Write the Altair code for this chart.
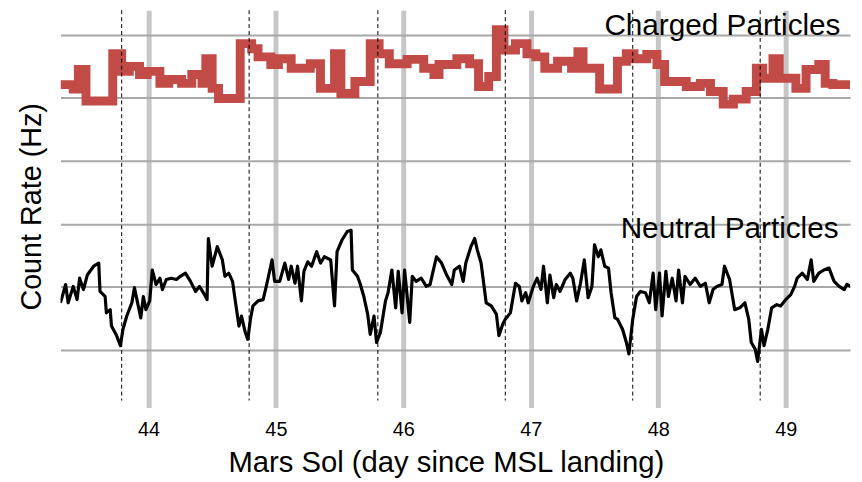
import altair as alt
import pandas as pd

# ---- data ----
sol_ticks = [44, 45, 46, 47, 48, 49]
grid_levels = [0, 10, 20, 30, 40, 50]
sunrise_sols = [43.79, 44.79, 45.80, 46.80, 47.80, 48.80]

charged_sol = [
    43.31, 43.41, 43.45, 43.51, 43.72, 43.79, 43.85, 43.93, 43.99, 44.09,
    44.16, 44.26, 44.34, 44.42, 44.45, 44.50, 44.55, 44.72, 44.81, 44.86,
    44.96, 45.02, 45.12, 45.27, 45.35, 45.46, 45.51, 45.62, 45.74, 45.81,
    45.89, 46.03, 46.16, 46.24, 46.28, 46.42, 46.52, 46.59, 46.67, 46.73,
    46.79, 46.88, 46.97, 47.04, 47.11, 47.21, 47.32, 47.37, 47.41, 47.54,
    47.68, 47.75, 47.81, 47.91, 47.99, 48.05, 48.22, 48.33, 48.41, 48.51,
    48.59, 48.69, 48.77, 48.82, 48.90, 48.95, 49.08, 49.16, 49.26, 49.31,
    49.37, 49.51,
]
charged_rate = [
    42.1, 41.4, 44.5, 39.5, 47.0, 44.2, 45.0, 43.7, 44.2, 42.3,
    42.9, 42.3, 43.7, 42.3, 46.2, 41.5, 39.9, 48.6, 47.8, 46.5,
    45.3, 46.2, 44.7, 45.4, 41.5, 47.0, 40.7, 42.6, 48.6, 47.0,
    45.4, 46.1, 44.7, 43.7, 45.3, 46.2, 45.4, 41.8, 43.4, 50.8,
    47.6, 48.6, 47.0, 46.5, 44.7, 45.8, 44.7, 47.3, 44.7, 41.4,
    45.8, 47.0, 46.2, 46.9, 45.3, 42.6, 41.8, 42.3, 41.0, 39.0,
    39.8, 41.0, 44.7, 43.1, 46.2, 43.1, 41.5, 44.5, 45.3, 42.3,
    42.1, 42.1,
]

neutral_sol = [
    43.31, 43.35, 43.37, 43.41, 43.44, 43.46, 43.49, 43.52, 43.57, 43.61,
    43.62, 43.66, 43.67, 43.70, 43.71, 43.75, 43.78, 43.80, 43.83, 43.87,
    43.89, 43.92, 43.94, 43.96, 43.98, 44.01, 44.03, 44.06, 44.09, 44.11,
    44.14, 44.18, 44.22, 44.25, 44.29, 44.33, 44.37, 44.40, 44.44, 44.46,
    44.47, 44.50, 44.54, 44.58, 44.60, 44.63, 44.66, 44.68, 44.71, 44.73,
    44.76, 44.78, 44.80, 44.82, 44.86, 44.90, 44.93, 44.97, 44.99, 45.03,
    45.07, 45.10, 45.12, 45.15, 45.17, 45.20, 45.22, 45.25, 45.28, 45.32,
    45.35, 45.38, 45.43, 45.46, 45.48, 45.52, 45.56, 45.59, 45.60, 45.64,
    45.66, 45.69, 45.72, 45.74, 45.77, 45.79, 45.82, 45.86, 45.88, 45.91,
    45.94, 45.96, 45.99, 46.01, 46.05, 46.07, 46.10, 46.14, 46.18, 46.21,
    46.23, 46.26, 46.30, 46.34, 46.38,
    46.40, 46.44, 46.47, 46.49, 46.53, 46.56, 46.58, 46.61, 46.65, 46.69,
    46.73, 46.75, 46.78, 46.80, 46.84, 46.88, 46.91, 46.93, 46.96, 46.98,
    47.02, 47.05, 47.08, 47.10, 47.13, 47.15, 47.18, 47.20, 47.23, 47.27,
    47.31, 47.33, 47.36, 47.39, 47.42, 47.45, 47.48, 47.50, 47.53, 47.55,
    47.58, 47.61, 47.63, 47.66, 47.68, 47.72, 47.75, 47.77, 47.80, 47.83,
    47.86, 47.90, 47.93, 47.96, 47.98, 48.01, 48.03, 48.06, 48.08, 48.11,
    48.14, 48.16, 48.19, 48.21, 48.25, 48.29, 48.33, 48.37, 48.40, 48.43,
    48.46, 48.50, 48.52, 48.56, 48.60, 48.64, 48.68, 48.71, 48.73, 48.76,
    48.78, 48.81, 48.83, 48.86, 48.89, 48.93, 48.96, 49.00, 49.04, 49.07,
    49.09, 49.13, 49.17, 49.20, 49.22, 49.26, 49.30, 49.34, 49.38, 49.42,
    49.46, 49.48, 49.51,
]
neutral_rate = [
    7.5, 10.4, 7.5, 10.1, 8.0, 11.4, 9.6, 11.9, 13.3, 13.8,
    9.3, 8.5, 5.9, 6.4, 3.8, 2.3, 0.7, 3.3, 5.4, 7.5,
    9.9, 7.0, 5.1, 8.5, 6.4, 7.8, 12.7, 10.4, 11.4, 9.6,
    11.2, 11.4, 11.2, 11.7, 12.2, 10.9, 9.3, 10.1, 8.8, 8.0,
    17.7, 13.3, 16.4, 14.3, 11.7, 12.2, 10.9, 8.0, 3.8, 5.4,
    2.8, 1.7, 4.9, 7.0, 7.8, 8.0, 10.6, 14.3, 10.9, 10.9,
    13.8, 11.2, 13.3, 10.6, 13.3, 7.8, 12.5, 14.0, 13.3, 15.6,
    13.8, 14.8, 14.3, 7.0, 15.6, 17.5, 18.8, 19.0, 12.7, 11.7,
    10.6, 8.5, 5.7, 2.5, 5.4, 1.2, 2.8, 7.8, 9.1, 12.7,
    6.7, 12.5, 5.9, 12.7, 4.4, 11.7, 10.9, 11.4, 10.1, 10.4,
    12.2, 14.8, 13.8, 11.9, 10.4,
    12.7, 13.3, 10.9, 13.8, 16.4, 17.7, 15.9, 13.8, 7.5, 7.0,
    5.7, 2.3, 4.1, 4.9, 5.9, 10.6, 10.1, 7.8, 9.1, 7.5,
    10.1, 11.4, 9.6, 13.3, 7.5, 11.9, 8.3, 10.4, 9.3, 11.2,
    12.2, 11.4, 7.8, 10.6, 14.3, 8.3, 10.1, 16.7, 14.8, 15.9,
    13.3, 13.0, 9.1, 5.1, 4.9, 3.3, 1.2, -0.6, 4.9, 8.5,
    9.3, 9.1, 7.5, 12.2, 6.4, 12.2, 5.4, 12.5, 8.5, 11.4,
    7.8, 12.7, 7.5, 11.7, 10.4, 11.4, 10.1, 10.6, 7.5, 9.6,
    10.1, 10.4, 13.3, 11.2, 6.4, 6.7, 7.5, 4.9, 1.2, 0.2,
    -1.8, 3.3, 0.7, 3.3, 6.7, 7.2, 7.0, 8.0, 8.8, 10.1,
    11.4, 12.2, 11.2, 14.3, 10.9, 12.2, 12.7, 13.0, 10.9, 10.1,
    9.6, 10.4, 10.1,
]

charged_df = pd.DataFrame({"sol": charged_sol, "rate": charged_rate})
neutral_df = pd.DataFrame({"sol": neutral_sol, "rate": neutral_rate})
sunrise_df = pd.DataFrame({"sol": sunrise_sols})

FONT = "Liberation Sans"
X_DOMAIN = [43.31, 49.505]
Y_DOMAIN = [-9.1, 53.9]

x_enc = alt.X(
    "sol:Q",
    scale=alt.Scale(domain=X_DOMAIN, nice=False, zero=False),
    axis=alt.Axis(
        values=sol_ticks, format="d", ticks=False, domain=False,
        grid=True, gridColor="#c6c6c6", gridWidth=5,
        labelFont=FONT, labelFontSize=20, labelColor="#000000", labelPadding=12,
        title="Mars Sol (day since MSL landing)", titleFont=FONT, titleFontSize=29.5,
        titleFontWeight="normal", titleColor="#000000",
        titleX=389, titleY=65, titleAnchor="middle", titleBaseline="alphabetic",
    ),
)
y_enc = alt.Y(
    "rate:Q",
    scale=alt.Scale(domain=Y_DOMAIN, nice=False, zero=False),
    axis=alt.Axis(
        values=grid_levels, labels=False, ticks=False, domain=False,
        grid=True, gridColor="#a8a8a8", gridWidth=2,
        title="Count Rate (Hz)", titleFont=FONT, titleFontSize=29,
        titleFontWeight="normal", titleColor="#000000",
        titleX=-29, titleY=198, titleAngle=270, titleAlign="center",
        titleBaseline="middle",
    ),
)

rules = alt.Chart(sunrise_df).mark_rule(
    color="#000000", strokeWidth=1, strokeDash=[4, 3]
).encode(
    x=alt.X("sol:Q", scale=alt.Scale(domain=X_DOMAIN, nice=False, zero=False)),
    y=alt.datum(53.9),
    y2=alt.datum(-8.0),
)

charged = alt.Chart(charged_df).mark_line(
    color="#c24b48", strokeWidth=9, interpolate="step-after", clip=True,
    strokeJoin="miter", strokeCap="butt",
).encode(x=x_enc, y=y_enc)

neutral = alt.Chart(neutral_df).mark_line(
    color="#000000", strokeWidth=3.2, clip=True, strokeJoin="round",
).encode(x="sol:Q", y="rate:Q")

label_charged = alt.Chart().mark_text(
    text="Charged Particles", font=FONT, fontSize=30, align="right",
    baseline="alphabetic", color="#000000",
).encode(x=alt.datum(49.43), y=alt.datum(50.0))

label_neutral = alt.Chart().mark_text(
    text="Neutral Particles", font=FONT, fontSize=30, align="right",
    baseline="alphabetic", color="#000000",
).encode(x=alt.datum(49.415), y=alt.datum(17.8))

chart = alt.layer(
    charged, rules, neutral, label_charged, label_neutral
).properties(
    width=797, height=401,
    autosize=alt.AutoSizeParams(type="none"),
    padding={"left": 53, "top": 0, "right": 4, "bottom": 72},
    background="#ffffff",
).configure_view(stroke=None)

chart.save("out.html", embed_options={"renderer": "svg", "actions": False})
